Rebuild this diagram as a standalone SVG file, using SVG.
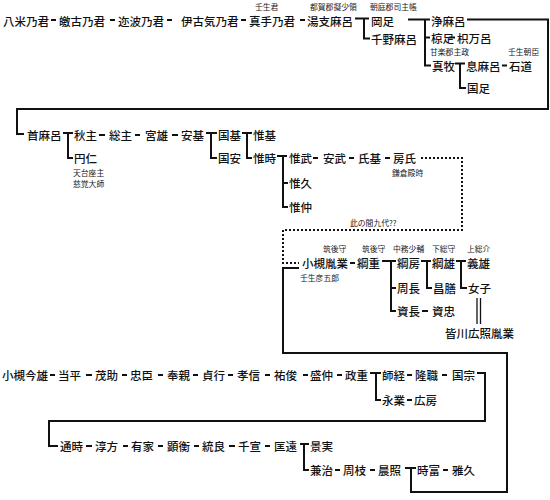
<svg xmlns="http://www.w3.org/2000/svg" width="550" height="500" viewBox="0 0 550 500">
<style>
.n{font-family:"Noto Sans CJK JP","Noto Sans",sans-serif;font-size:11.5px;font-weight:500;fill:#111;dominant-baseline:central}
.s{font-family:"Noto Sans CJK JP","Noto Sans",sans-serif;font-size:7.8px;fill:#222;dominant-baseline:central}
.c line,.c path{stroke:#111;stroke-width:2;fill:none}
.c .d{stroke-dasharray:2 2}
</style>
<rect width="550" height="500" fill="#fff"/>
<g class="c" id="connectors">
<line x1="51" y1="20" x2="56" y2="20"/>
<line x1="110" y1="20" x2="115" y2="20"/>
<line x1="167" y1="20" x2="172" y2="20"/>
<line x1="241" y1="20" x2="246" y2="20"/>
<line x1="300" y1="20" x2="305" y2="20"/>
<path d="M355 18.5H369M364 18.5V38.5H370"/>
<path d="M408 19.5H430M425 19.5V65.5H431M425 37.5H430"/>
<line x1="449" y1="37.5" x2="455" y2="37.5"/>
<path d="M455 63.5H465M460 63.5V88H466"/>
<line x1="502" y1="65.5" x2="507" y2="65.5"/>
<path d="M467 19.5H548V109H17V134H24"/>
<path d="M63 133H73M68 133V158H73"/>
<line x1="99" y1="135" x2="105" y2="135"/>
<line x1="135" y1="135" x2="140" y2="135"/>
<line x1="172" y1="135" x2="178" y2="135"/>
<path d="M206 133H217M211 133V158H217"/>
<path d="M242 133H252M247 133V158H252"/>
<path d="M277 156H287M283 156V207H288M283 183H288"/>
<line x1="313" y1="158" x2="318" y2="158"/>
<line x1="349" y1="158" x2="354" y2="158"/>
<line x1="385" y1="158" x2="390" y2="158"/>
<path class="d" d="M421 158H462V230H283V263H299"/>
<line x1="350" y1="263" x2="355" y2="263"/>
<path d="M382 261H396M391 261V311H396M391 288H396"/>
<path d="M421 261H431M427 261V288H432"/>
<path d="M456 261H466M461 261V288H467"/>
<line x1="422" y1="311" x2="428" y2="311"/>
<line x1="477" y1="298" x2="477" y2="324" style="stroke-width:1.3"/>
<line x1="480.5" y1="298" x2="480.5" y2="324" style="stroke-width:1.3"/>
<path d="M299 268H283V353H507V492H411V468H416M405 468H411"/>
<line x1="50" y1="375" x2="55" y2="375"/>
<line x1="86" y1="375" x2="92" y2="375"/>
<line x1="122" y1="375" x2="127" y2="375"/>
<line x1="158" y1="375" x2="163" y2="375"/>
<line x1="193" y1="375" x2="198" y2="375"/>
<line x1="228" y1="375" x2="233" y2="375"/>
<line x1="265" y1="375" x2="270" y2="375"/>
<line x1="303" y1="375" x2="308" y2="375"/>
<line x1="337" y1="375" x2="342" y2="375"/>
<path d="M370 373H381M376 373V400H381"/>
<line x1="407" y1="375" x2="412" y2="375"/>
<line x1="442" y1="375" x2="447" y2="375"/>
<line x1="407" y1="400" x2="412" y2="400"/>
<path d="M477 373H485V421H49V446H58"/>
<line x1="86" y1="446" x2="92" y2="446"/>
<line x1="123" y1="446" x2="128" y2="446"/>
<line x1="158" y1="446" x2="163" y2="446"/>
<line x1="194" y1="446" x2="199" y2="446"/>
<line x1="229" y1="446" x2="235" y2="446"/>
<line x1="265" y1="446" x2="270" y2="446"/>
<path d="M300 444H309M304 444V470H309"/>
<line x1="335" y1="470" x2="340" y2="470"/>
<line x1="370" y1="470" x2="375" y2="470"/>
<line x1="443" y1="470" x2="448" y2="470"/>
</g>
<g id="n01"><text class="n" x="3" y="20.5">八米乃君</text></g>
<g id="n02"><text class="n" x="59" y="20.5">皦古乃君</text></g>
<g id="n03"><text class="n" x="118" y="20.5">迩波乃君</text></g>
<g id="n04"><text class="n" x="181" y="20.5">伊古気乃君</text></g>
<g id="n05"><text class="s" x="255" y="6.4">壬生君</text><text class="n" x="249" y="20.5">真手乃君</text></g>
<g id="n06"><text class="s" x="310" y="6.4">都賀郡擬少領</text><text class="n" x="307" y="20.5">湯支麻呂</text></g>
<g id="n07"><text class="s" x="370" y="6.4">朝庭郡司主帳</text><text class="n" x="371" y="20.5">岡足</text></g>
<g id="n08"><text class="n" x="371" y="38.5">千野麻呂</text></g>
<g id="n09"><text class="n" x="431" y="20.5">浄麻呂</text></g>
<g id="n10"><text class="n" x="431" y="37.5">椋足</text></g>
<g id="n11"><text class="n" x="457" y="37.5">枳万呂</text></g>
<g id="n12"><text class="s" x="430" y="51.4">甘楽郡主政</text><text class="n" x="432" y="65.6">真牧</text></g>
<g id="n13"><text class="n" x="466" y="65.6">息麻呂</text></g>
<g id="n14"><text class="s" x="508" y="51.4">壬生朝臣</text><text class="n" x="509" y="65.6">石道</text></g>
<g id="n15"><text class="n" x="467" y="88">国足</text></g>
<g id="n16"><text class="n" x="27" y="135">首麻呂</text></g>
<g id="n17"><text class="n" x="74" y="135">秋主</text></g>
<g id="n18"><text class="n" x="74" y="158">円仁</text><text class="s" x="73" y="172">天台座主</text><text class="s" x="73" y="183.5">慈覚大師</text></g>
<g id="n19"><text class="n" x="109" y="135">総主</text></g>
<g id="n20"><text class="n" x="145" y="135">宮雄</text></g>
<g id="n21"><text class="n" x="181" y="135">安基</text></g>
<g id="n22"><text class="n" x="218" y="135">国基</text></g>
<g id="n23"><text class="n" x="218" y="158">国安</text></g>
<g id="n24"><text class="n" x="253" y="135">惟基</text></g>
<g id="n25"><text class="n" x="253" y="158">惟時</text></g>
<g id="n26"><text class="n" x="289" y="158">惟武</text></g>
<g id="n27"><text class="n" x="289" y="183">惟久</text></g>
<g id="n28"><text class="n" x="289" y="207">惟仲</text></g>
<g id="n29"><text class="n" x="323" y="158">安武</text></g>
<g id="n30"><text class="n" x="358" y="158">氏基</text></g>
<g id="n31"><text class="n" x="393" y="158">房氏</text><text class="s" x="392" y="172.5">鎌倉殿時</text></g>
<g id="note"><text class="s" x="350" y="222">此の間九代??</text></g>
<g id="n32"><text class="s" x="323" y="248.5">筑後守</text><text class="n" x="302" y="263">小槻胤業</text><text class="s" x="300" y="277">壬生彦五郎</text></g>
<g id="n33"><text class="s" x="362" y="248.5">筑後守</text><text class="n" x="357" y="263">綱重</text></g>
<g id="n34"><text class="s" x="393" y="248.5">中務少輔</text><text class="n" x="397" y="263">綱房</text></g>
<g id="n35"><text class="s" x="432" y="248.5">下総守</text><text class="n" x="432" y="263">綱雄</text></g>
<g id="n36"><text class="s" x="467" y="248.5">上総介</text><text class="n" x="467" y="263">義雄</text></g>
<g id="n37"><text class="n" x="397" y="288">周長</text></g>
<g id="n38"><text class="n" x="433" y="288">昌膳</text></g>
<g id="n39"><text class="n" x="468" y="288">女子</text></g>
<g id="n40"><text class="n" x="397" y="311">資長</text></g>
<g id="n41"><text class="n" x="432" y="311">資忠</text></g>
<g id="n42"><text class="n" x="445" y="333">皆川広照胤業</text></g>
<g id="n43"><text class="n" x="2" y="375">小槻今雄</text></g>
<g id="n44"><text class="n" x="58" y="375">当平</text></g>
<g id="n45"><text class="n" x="95" y="375">茂助</text></g>
<g id="n46"><text class="n" x="130" y="375">忠臣</text></g>
<g id="n47"><text class="n" x="167" y="375">奉親</text></g>
<g id="n48"><text class="n" x="202" y="375">貞行</text></g>
<g id="n49"><text class="n" x="237" y="375">孝信</text></g>
<g id="n50"><text class="n" x="274" y="375">祐俊</text></g>
<g id="n51"><text class="n" x="310" y="375">盛仲</text></g>
<g id="n52"><text class="n" x="345" y="375">政重</text></g>
<g id="n53"><text class="n" x="382" y="375">師経</text></g>
<g id="n54"><text class="n" x="415" y="375">隆職</text></g>
<g id="n55"><text class="n" x="452" y="375">国宗</text></g>
<g id="n56"><text class="n" x="382" y="400">永業</text></g>
<g id="n57"><text class="n" x="414" y="400">広房</text></g>
<g id="n58"><text class="n" x="60" y="446">通時</text></g>
<g id="n59"><text class="n" x="95" y="446">淳方</text></g>
<g id="n60"><text class="n" x="131" y="446">有家</text></g>
<g id="n61"><text class="n" x="167" y="446">顕衡</text></g>
<g id="n62"><text class="n" x="202" y="446">統良</text></g>
<g id="n63"><text class="n" x="238" y="446">千宣</text></g>
<g id="n64"><text class="n" x="274" y="446">匡遠</text></g>
<g id="n65"><text class="n" x="310" y="446">景実</text></g>
<g id="n66"><text class="n" x="310" y="470">兼治</text></g>
<g id="n67"><text class="n" x="343" y="470">周枝</text></g>
<g id="n68"><text class="n" x="378" y="470">晨照</text></g>
<g id="n69"><text class="n" x="417" y="470">時富</text></g>
<g id="n70"><text class="n" x="452" y="470">雅久</text></g>
</svg>
